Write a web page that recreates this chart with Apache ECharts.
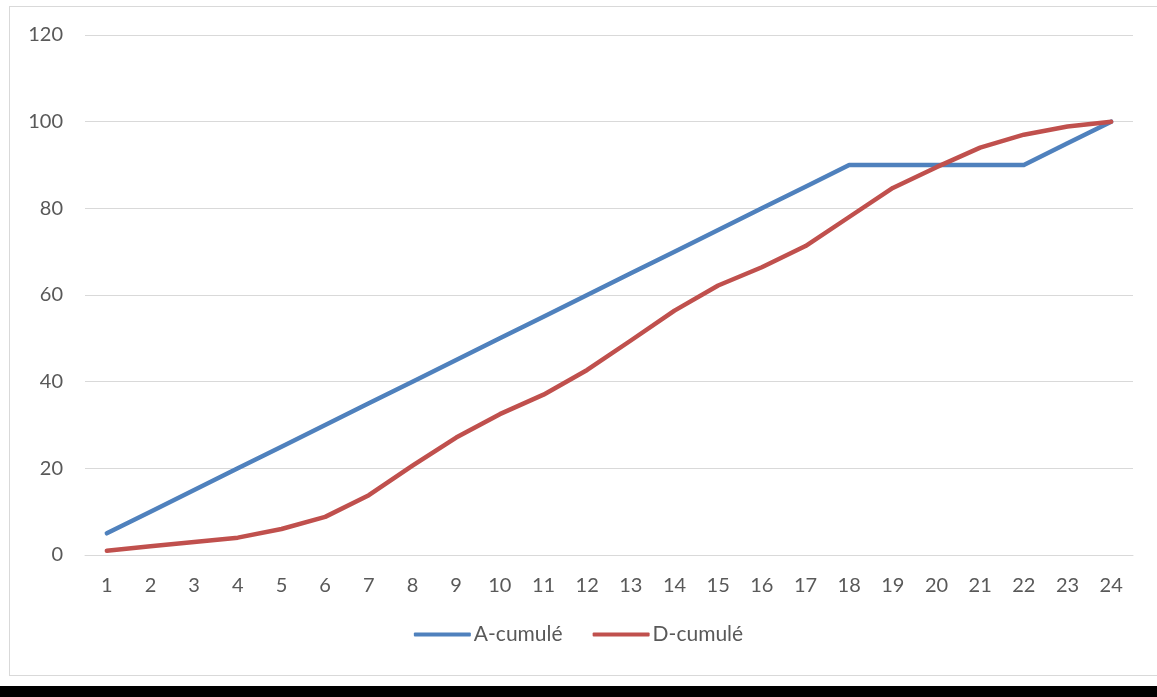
<!DOCTYPE html>
<html>
<head>
<meta charset="utf-8">
<script src="https://cdn.jsdelivr.net/npm/echarts@6/dist/echarts.min.js"></script>
<style>
  html, body { margin: 0; padding: 0; background: #fff; }
  #frame { position: absolute; left: 9px; top: 6px; width: 1160px; height: 670px; border: 1px solid #d9d9d9; box-sizing: border-box; }
  #bar { position: absolute; left: 0; top: 686px; width: 1157px; height: 11px; background: #000; }
  #chart { position: absolute; left: 0; top: 0; width: 1157px; height: 697px; }
</style>
</head>
<body>
<div id="frame"></div>
<div id="chart"></div>
<div id="bar"></div>
<script>
// Hour categories along the horizontal axis
const categories = ['1','2','3','4','5','6','7','8','9','10','11','12','13','14','15','16','17','18','19','20','21','22','23','24'];
// Cumulative percentages
const aCumule = [5,10,15,20,25,30,35,40,45,50,55,60,65,70,75,80,85,90,90,90,90,90,95,100];
const dCumule = [1,2,3,4,6,8.8,13.8,20.6,27.1,32.5,37,42.7,49.5,56.4,62.2,66.4,71.3,78,84.7,89.5,94,97,98.9,100];
const seriesNames = ['A-cumulé', 'D-cumulé'];
const colors = ['#4F81BD', '#C0504D'];

const font = 'Lato, "Open Sans", sans-serif';
const chart = echarts.init(document.getElementById('chart'), null, { renderer: 'canvas' });

chart.setOption({
  animation: false,
  color: colors,
  grid: { left: 85, right: 24, top: 35, bottom: 142 },
  legend: {
    bottom: 47,
    left: 'center',
    icon: 'roundRect',
    itemWidth: 57,
    itemHeight: 4,
    itemGap: 30,
    textStyle: { color: '#595959', fontSize: 21, fontFamily: font, padding: [0, 0, 0, -2] },
    data: seriesNames
  },
  xAxis: {
    type: 'category',
    data: categories,
    boundaryGap: true,
    axisLine: { lineStyle: { color: '#d9d9d9', width: 1 } },
    axisTick: { show: false },
    axisLabel: { color: '#595959', fontSize: 20, fontFamily: font, margin: 21 }
  },
  yAxis: {
    type: 'value',
    min: 0,
    max: 120,
    interval: 20,
    axisLine: { show: false },
    axisTick: { show: false },
    axisLabel: { color: '#595959', fontSize: 20, fontFamily: font, margin: 22 },
    splitLine: { lineStyle: { color: '#d9d9d9', width: 1 } }
  },
  series: [
    {
      name: seriesNames[0],
      type: 'line',
      data: aCumule,
      showSymbol: false,
      lineStyle: { width: 4.5, cap: 'round', join: 'round' }
    },
    {
      name: seriesNames[1],
      type: 'line',
      data: dCumule,
      showSymbol: false,
      lineStyle: { width: 4.5, cap: 'round', join: 'round' }
    }
  ]
});
</script>
</body>
</html>
